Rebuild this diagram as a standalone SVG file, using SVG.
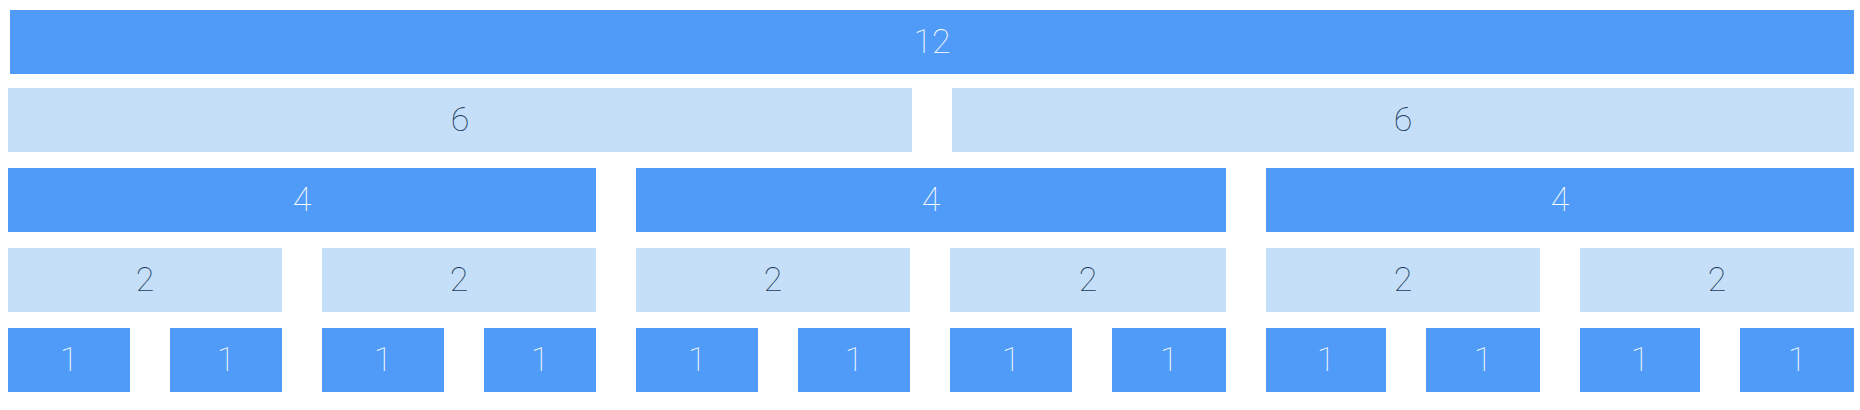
<svg xmlns="http://www.w3.org/2000/svg" width="1860" height="410" viewBox="0 0 1860 410">
<style>
.d rect{fill:#519bf8}
.l rect{fill:#c4dff7}
text{font-family:Roboto,"Liberation Sans",sans-serif;font-weight:100;font-size:34px;text-anchor:middle}
.d text{fill:#ffffff}
.l text{fill:#1d3a5e}
</style>
<rect width="1860" height="410" fill="#ffffff"/>
<g id="n12" class="d"><rect x="10" y="10" width="1844" height="64"/><text x="932" y="53">12</text></g>
<g id="n6a" class="l"><rect x="8" y="88" width="904" height="64"/><text x="460" y="131">6</text></g>
<g id="n6b" class="l"><rect x="952" y="88" width="902" height="64"/><text x="1403" y="131">6</text></g>
<g id="n4a" class="d"><rect x="8" y="168" width="588" height="64"/><text x="302" y="211">4</text></g>
<g id="n4b" class="d"><rect x="636" y="168" width="590" height="64"/><text x="931" y="211">4</text></g>
<g id="n4c" class="d"><rect x="1266" y="168" width="588" height="64"/><text x="1560" y="211">4</text></g>
<g id="n2a" class="l"><rect x="8" y="248" width="274" height="64"/><text x="145" y="291">2</text></g>
<g id="n2b" class="l"><rect x="322" y="248" width="274" height="64"/><text x="459" y="291">2</text></g>
<g id="n2c" class="l"><rect x="636" y="248" width="274" height="64"/><text x="773" y="291">2</text></g>
<g id="n2d" class="l"><rect x="950" y="248" width="276" height="64"/><text x="1088" y="291">2</text></g>
<g id="n2e" class="l"><rect x="1266" y="248" width="274" height="64"/><text x="1403" y="291">2</text></g>
<g id="n2f" class="l"><rect x="1580" y="248" width="274" height="64"/><text x="1717" y="291">2</text></g>
<g id="n1a" class="d"><rect x="8" y="328" width="122" height="64"/><text x="69" y="371">1</text></g>
<g id="n1b" class="d"><rect x="170" y="328" width="112" height="64"/><text x="226" y="371">1</text></g>
<g id="n1c" class="d"><rect x="322" y="328" width="122" height="64"/><text x="383" y="371">1</text></g>
<g id="n1d" class="d"><rect x="484" y="328" width="112" height="64"/><text x="540" y="371">1</text></g>
<g id="n1e" class="d"><rect x="636" y="328" width="122" height="64"/><text x="697" y="371">1</text></g>
<g id="n1f" class="d"><rect x="798" y="328" width="112" height="64"/><text x="854" y="371">1</text></g>
<g id="n1g" class="d"><rect x="950" y="328" width="122" height="64"/><text x="1011" y="371">1</text></g>
<g id="n1h" class="d"><rect x="1112" y="328" width="114" height="64"/><text x="1169" y="371">1</text></g>
<g id="n1i" class="d"><rect x="1266" y="328" width="120" height="64"/><text x="1326" y="371">1</text></g>
<g id="n1j" class="d"><rect x="1426" y="328" width="114" height="64"/><text x="1483" y="371">1</text></g>
<g id="n1k" class="d"><rect x="1580" y="328" width="120" height="64"/><text x="1640" y="371">1</text></g>
<g id="n1l" class="d"><rect x="1740" y="328" width="114" height="64"/><text x="1797" y="371">1</text></g>
<g id="connectors"></g>
</svg>
